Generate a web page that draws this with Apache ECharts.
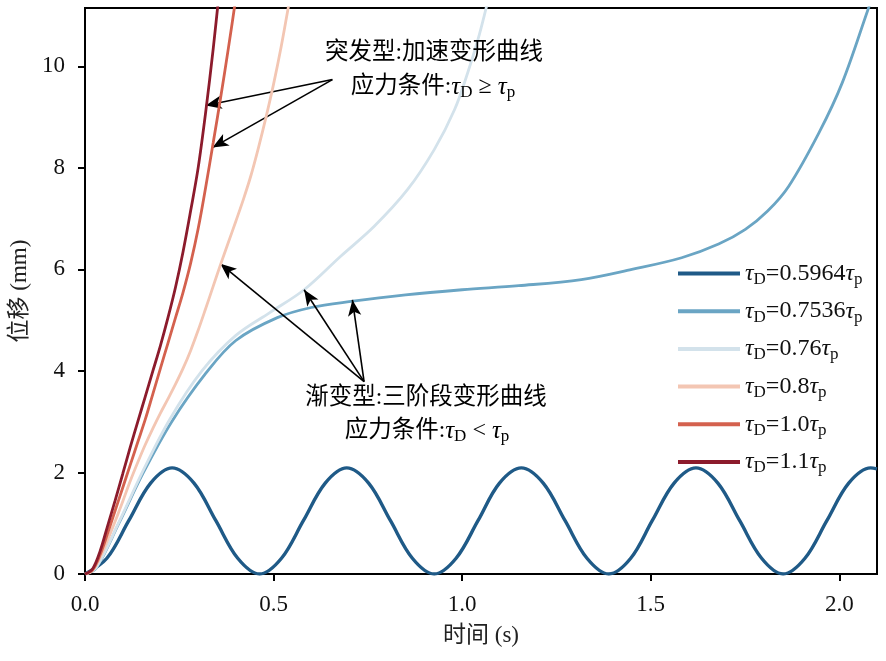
<!DOCTYPE html>
<html>
<head>
<meta charset="utf-8">
<script src="https://cdn.jsdelivr.net/npm/echarts@6/dist/echarts.min.js"></script>
<style>html,body{margin:0;padding:0;background:#fff}#c{width:886px;height:661px}</style>
</head>
<body>
<div id="c"></div>
<script>
// ---- data ----
const xTicks = [0, 0.5, 1.0, 1.5, 2.0];
const yTicks = [0, 2, 4, 6, 8, 10];

const seriesNames = ['0.5964', '0.7536', '0.76', '0.8', '1.0', '1.1'];
const seriesColors = ['#1f5a87', '#6aa5c4', '#d3e2eb', '#f3c6b3', '#d4614e', '#8c1b2c'];

// tau_D = 0.5964 tau_p (oscillating)
const t05964 = [0, 0.058, 0.116, 0.174, 0.231, 0.289, 0.347, 0.405, 0.463, 0.521, 0.579, 0.637, 0.694, 0.752, 0.810, 0.868, 0.926, 0.984, 1.042, 1.099, 1.157, 1.215, 1.273, 1.331, 1.389, 1.447, 1.504, 1.562, 1.620, 1.678, 1.736, 1.794, 1.851, 1.909, 1.967, 2.025, 2.083, 2.10];
const y05964 = [0, 0.31, 1.05, 1.79, 2.09, 1.79, 1.05, 0.31, 0, 0.31, 1.05, 1.79, 2.09, 1.79, 1.05, 0.31, 0, 0.31, 1.05, 1.79, 2.09, 1.79, 1.05, 0.31, 0, 0.31, 1.05, 1.79, 2.09, 1.79, 1.05, 0.31, 0, 0.31, 1.05, 1.79, 2.09, 2.07];

// tau_D = 0.7536 tau_p
const t07536 = [0, 0.03, 0.09, 0.155, 0.23, 0.32, 0.40, 0.51, 0.60, 0.705, 0.85, 1.0, 1.15, 1.316, 1.45, 1.582, 1.68, 1.751, 1.81, 1.866, 1.946, 2.008, 2.08, 2.10];
const y07536 = [0, 0.12, 1.0, 2.0, 3.0, 3.95, 4.6, 5.05, 5.25, 5.37, 5.5, 5.6, 5.68, 5.8, 6.0, 6.23, 6.5, 6.79, 7.15, 7.64, 8.69, 9.68, 11.2, 11.6];

// tau_D = 0.76 tau_p
const t076 = [0, 0.03, 0.09, 0.155, 0.225, 0.31, 0.40, 0.49, 0.581, 0.678, 0.767, 0.855, 0.926, 0.98, 1.015, 1.042, 1.064, 1.075];
const y076 = [0, 0.13, 1.02, 2.05, 3.05, 4.0, 4.7, 5.15, 5.60, 6.26, 6.85, 7.57, 8.36, 9.15, 9.88, 10.53, 11.16, 11.5];

// tau_D = 0.8 tau_p
const t08 = [0, 0.02, 0.04, 0.06, 0.08, 0.10, 0.12, 0.14, 0.16, 0.18, 0.20, 0.22, 0.24, 0.26, 0.28, 0.30, 0.32, 0.34, 0.36, 0.38, 0.40, 0.42, 0.44, 0.46, 0.48, 0.50, 0.52, 0.54, 0.55];
const y08 = [0, 0.07, 0.33, 0.67, 1.04, 1.43, 1.83, 2.2, 2.55, 2.87, 3.17, 3.45, 3.74, 4.05, 4.4, 4.8, 5.23, 5.67, 6.11, 6.53, 6.95, 7.38, 7.85, 8.4, 9.0, 9.65, 10.38, 11.2, 11.6];

// tau_D = 1.0 tau_p
const t10 = [0, 0.02, 0.04, 0.06, 0.08, 0.10, 0.12, 0.14, 0.16, 0.18, 0.20, 0.22, 0.24, 0.26, 0.28, 0.30, 0.32, 0.34, 0.36, 0.38, 0.40, 0.41];
const y10 = [0, 0.08, 0.38, 0.8, 1.25, 1.7, 2.15, 2.6, 3.05, 3.55, 4.05, 4.55, 5.05, 5.55, 6.12, 6.8, 7.62, 8.5, 9.4, 10.35, 11.35, 11.9];

// tau_D = 1.1 tau_p
const t11 = [0, 0.02, 0.04, 0.06, 0.08, 0.10, 0.12, 0.14, 0.16, 0.18, 0.20, 0.22, 0.24, 0.26, 0.28, 0.30, 0.32, 0.34, 0.355, 0.365];
const y11 = [0, 0.1, 0.45, 0.95, 1.45, 1.97, 2.5, 3.0, 3.5, 4.0, 4.5, 5.05, 5.65, 6.35, 7.15, 8.0, 9.1, 10.35, 11.4, 12.1];

const seriesT = [t05964, t07536, t076, t08, t10, t11];
const seriesY = [y05964, y07536, y076, y08, y10, y11];

// annotation arrows (data coordinates: [start], [tip])
const arrowsGroup1 = [[[0.656, 9.74], [0.320, 9.23]], [[0.656, 9.74], [0.338, 8.40]]];
const arrowsGroup2 = [[[0.740, 3.79], [0.359, 6.11]], [[0.740, 3.79], [0.581, 5.60]], [[0.740, 3.79], [0.709, 5.40]]];

// ---- chart ----
const FONT = "'Liberation Serif', 'Noto Sans CJK SC', serif";
const chart = echarts.init(document.getElementById('c'), null, {renderer: 'canvas'});

const richLegend = {
  t: {fontFamily: 'Liberation Serif', fontStyle: 'italic', fontSize: 24, lineHeight: 28, color: '#111'},
  n: {fontFamily: 'Liberation Serif', fontSize: 24, lineHeight: 28, color: '#111'},
  s: {fontFamily: 'Liberation Serif', fontSize: 17, lineHeight: 17, padding: [12, 0, 0, 0], color: '#111'}
};
const richAnno = {
  c: {fontFamily: FONT, fontSize: 23.5, lineHeight: 28, color: '#222'},
  o: {fontFamily: 'Liberation Serif', fontSize: 24, lineHeight: 28, color: '#222'},
  t: {fontFamily: 'Liberation Serif', fontStyle: 'italic', fontSize: 25, lineHeight: 28, color: '#222'},
  s: {fontFamily: 'Liberation Serif', fontSize: 17, lineHeight: 17, padding: [12, 0, 0, 0], color: '#222'}
};

const series = seriesNames.map((nm, i) => ({
  name: nm,
  type: 'line',
  smooth: 0.35,
  showSymbol: false,
  clip: true,
  lineStyle: {width: i === 0 ? 3.4 : 2.8, color: seriesColors[i]},
  itemStyle: {color: seriesColors[i]},
  data: seriesT[i].map((t, k) => [t, seriesY[i][k]]),
  z: 2 + i
}));

const toMark = arr => arr.map(a => [{coord: a[0]}, {coord: a[1]}]);
series.push({
  name: 'arrows',
  type: 'line',
  data: [],
  z: 20,
  markLine: {
    silent: true,
    animation: false,
    symbol: ['none', 'arrow'],
    symbolSize: [10, 16],
    label: {show: false},
    lineStyle: {color: '#000', width: 1.6, type: 'solid'},
    emphasis: {disabled: true},
    data: toMark(arrowsGroup1).concat(toMark(arrowsGroup2))
  }
});

chart.setOption({
  animation: false,
  backgroundColor: '#fff',
  grid: {left: 85, right: 9, top: 8, bottom: 87, show: true, borderColor: '#000', borderWidth: 2, backgroundColor: 'transparent'},
  xAxis: {
    type: 'value', min: 0, max: 2.1, interval: 0.5,
    name: '时间 (s)', nameLocation: 'middle', nameGap: 50,
    nameTextStyle: {fontFamily: FONT, fontSize: 23, color: '#222'},
    axisLine: {show: true, onZero: false, lineStyle: {color: '#000', width: 2}},
    axisTick: {show: true, inside: false, length: 7, lineStyle: {color: '#000', width: 2}, customValues: xTicks},
    axisLabel: {fontFamily: 'Liberation Serif', fontSize: 23, color: '#111', margin: 19,
      customValues: xTicks, formatter: v => v.toFixed(1)},
    splitLine: {show: false}
  },
  yAxis: {
    type: 'value', min: 0, max: 11.15, interval: 2,
    name: '位移 (mm)', nameLocation: 'middle', nameGap: 46, nameRotate: 90,
    nameTextStyle: {fontFamily: FONT, fontSize: 23, color: '#222'},
    axisLine: {show: true, onZero: false, lineStyle: {color: '#000', width: 2}},
    axisTick: {show: true, inside: false, length: 7, lineStyle: {color: '#000', width: 2}, customValues: yTicks},
    axisLabel: {fontFamily: 'Liberation Serif', fontSize: 23, color: '#111', margin: 20,
      customValues: yTicks, formatter: v => String(v)},
    splitLine: {show: false}
  },
  legend: {
    orient: 'vertical',
    left: 673, top: 254,
    itemWidth: 62, itemHeight: 4, itemGap: 8.7,
    icon: 'rect',
    data: seriesNames,
    formatter: nm => '{t|τ}{s|D}{n|=' + nm + '}{t|τ}{s|p}',
    textStyle: {rich: richLegend},
    selectedMode: false
  },
  graphic: [
    {type: 'text', x: 434, y: 53, z: 30, style: {text: '{c|突发型:加速变形曲线}', rich: richAnno, align: 'center', verticalAlign: 'middle'}},
    {type: 'text', x: 433, y: 87, z: 30, style: {text: '{c|应力条件:}{t|τ}{s|D}{o| ≥ }{t|τ}{s|p}', rich: richAnno, align: 'center', verticalAlign: 'middle'}},
    {type: 'text', x: 426, y: 398, z: 30, style: {text: '{c|渐变型:三阶段变形曲线}', rich: richAnno, align: 'center', verticalAlign: 'middle'}},
    {type: 'text', x: 427, y: 431, z: 30, style: {text: '{c|应力条件:}{t|τ}{s|D}{o| < }{t|τ}{s|p}', rich: richAnno, align: 'center', verticalAlign: 'middle'}}
  ],
  series: series
});
</script>
</body>
</html>
